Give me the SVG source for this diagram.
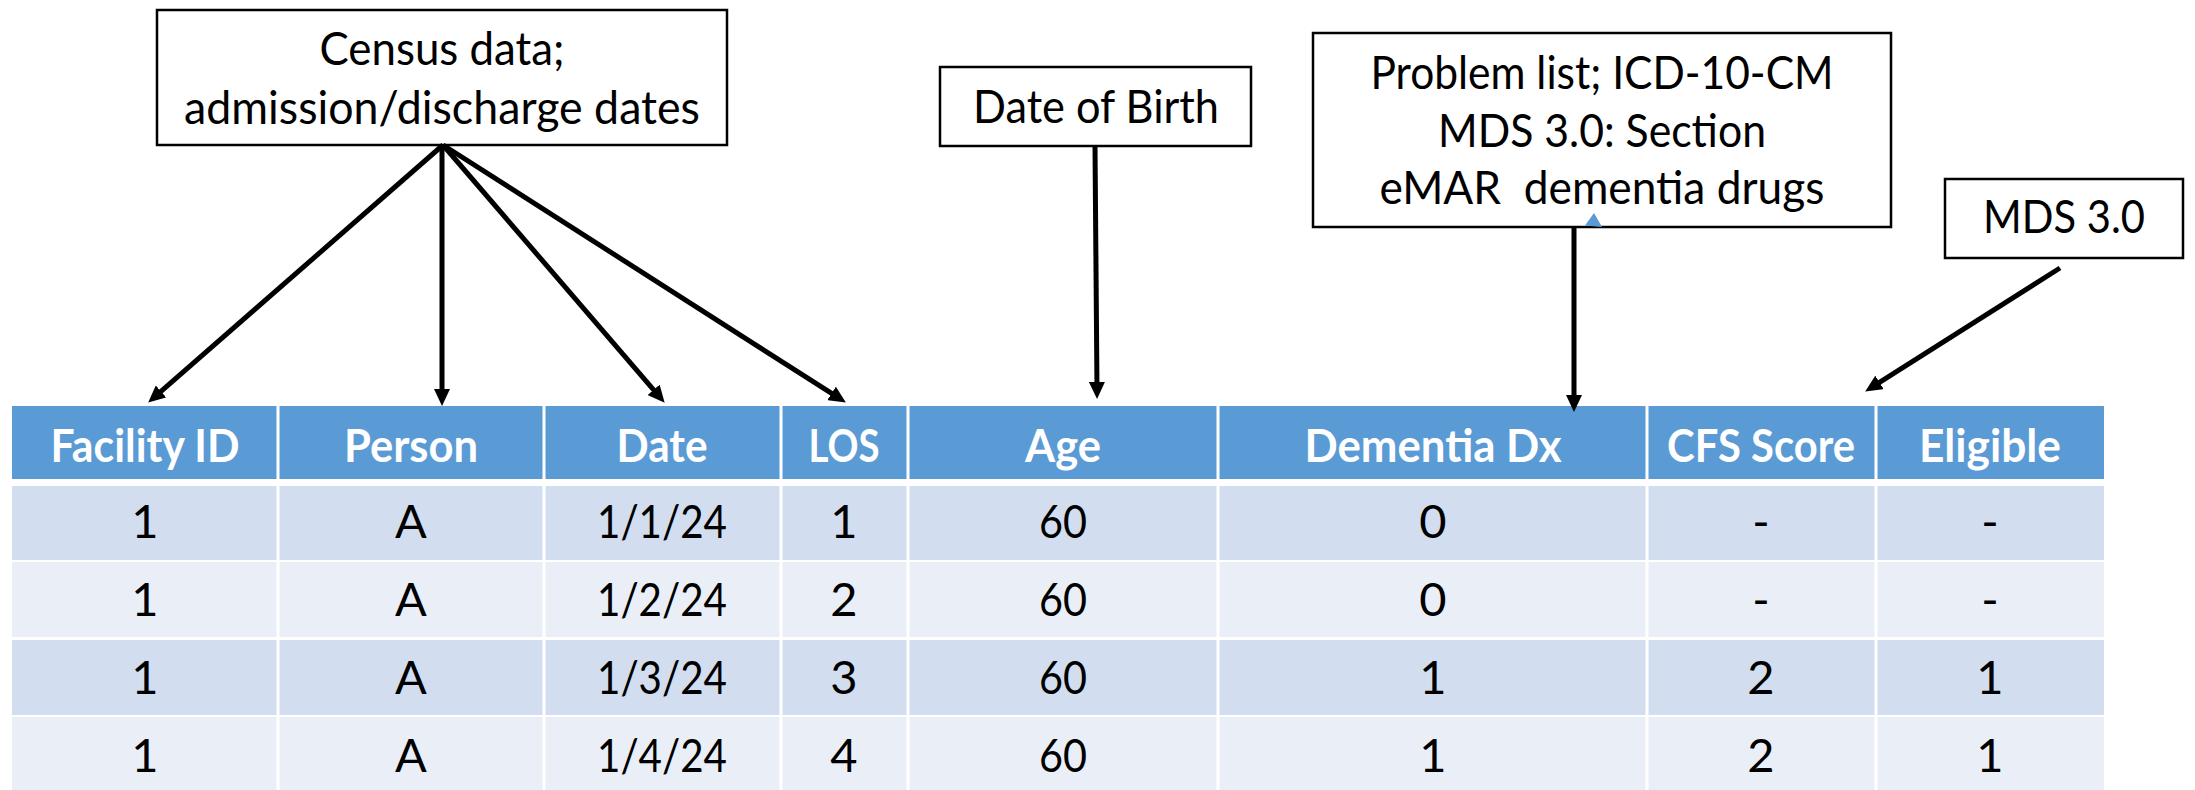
<svg xmlns="http://www.w3.org/2000/svg" width="2195" height="790" viewBox="0 0 2195 790">
  <defs>
    <marker id="arrow" markerUnits="userSpaceOnUse" markerWidth="17" markerHeight="16" refX="8" refY="8" orient="auto">
      <path d="M0,0 L17,8 L0,16 z" fill="#000"/>
    </marker>
    <style>
      .box { fill: #fff; stroke: #000; stroke-width: 2.5; }
      .lbl { font-family: Lato, "Liberation Sans", sans-serif; font-size: 47px; fill: #000; text-anchor: middle; }
      .hdr { font-family: Lato, "Liberation Sans", sans-serif; font-size: 46px; font-weight: bold; fill: #fff; text-anchor: middle; }
      .cell { font-family: Lato, "Liberation Sans", sans-serif; font-size: 47px; fill: #000; text-anchor: middle; }
      .conn { stroke: #000; stroke-width: 5; fill: none; marker-end: url(#arrow); }
      .sep { stroke: #fff; stroke-width: 3; }
    </style>
  </defs>

  <rect width="2195" height="790" fill="#fff"/>

  <!-- source boxes -->
  <g id="census">
    <rect class="box" x="157" y="10" width="570" height="135"/>
    <text class="lbl" x="442" y="65" textLength="245" lengthAdjust="spacingAndGlyphs">Census data;</text>
    <text class="lbl" x="442" y="124" textLength="516" lengthAdjust="spacingAndGlyphs">admission/discharge dates</text>
  </g>

  <g id="dob">
    <rect class="box" x="940" y="67" width="311" height="79"/>
    <text class="lbl" x="1096" y="123" textLength="246" lengthAdjust="spacingAndGlyphs">Date of Birth</text>
  </g>

  <g id="problem-list">
    <rect class="box" x="1313" y="33" width="578" height="194"/>
    <text class="lbl" x="1602" y="89" textLength="463" lengthAdjust="spacingAndGlyphs">Problem list; ICD-10-CM</text>
    <text class="lbl" x="1602" y="147" textLength="328" lengthAdjust="spacingAndGlyphs">MDS 3.0: Section</text>
    <text class="lbl" x="1602" y="204" textLength="445" lengthAdjust="spacingAndGlyphs" style="white-space:pre">eMAR  dementia drugs</text>
    <polygon points="1594,213 1585,225.5 1602,227" fill="#5B9BD5"/>
  </g>

  <g id="mds">
    <rect class="box" x="1945" y="179" width="238" height="79"/>
    <text class="lbl" x="2064" y="233" textLength="162" lengthAdjust="spacingAndGlyphs">MDS 3.0</text>
  </g>

  <!-- data table -->
  <g id="table">
    <rect x="12" y="406" width="2092" height="73" fill="#5B9BD5"/>
    <rect x="12" y="486" width="2092" height="74" fill="#D2DEEF"/>
    <rect x="12" y="562" width="2092" height="75" fill="#EAEFF7"/>
    <rect x="12" y="640" width="2092" height="75" fill="#D2DEEF"/>
    <rect x="12" y="717" width="2092" height="73" fill="#EAEFF7"/>
    <g class="sep">
      <line x1="278" y1="406" x2="278" y2="790"/>
      <line x1="544" y1="406" x2="544" y2="790"/>
      <line x1="781" y1="406" x2="781" y2="790"/>
      <line x1="908" y1="406" x2="908" y2="790"/>
      <line x1="1218" y1="406" x2="1218" y2="790"/>
      <line x1="1647" y1="406" x2="1647" y2="790"/>
      <line x1="1876" y1="406" x2="1876" y2="790"/>
    </g>

    <g id="header">
      <text class="hdr" x="145" y="462" textLength="189" lengthAdjust="spacingAndGlyphs">Facility ID</text>
      <text class="hdr" x="411" y="462" textLength="134" lengthAdjust="spacingAndGlyphs">Person</text>
      <text class="hdr" x="662" y="462" textLength="91" lengthAdjust="spacingAndGlyphs">Date</text>
      <text class="hdr" x="844" y="462" textLength="71" lengthAdjust="spacingAndGlyphs">LOS</text>
      <text class="hdr" x="1063" y="462" textLength="76" lengthAdjust="spacingAndGlyphs">Age</text>
      <text class="hdr" x="1433" y="462" textLength="257" lengthAdjust="spacingAndGlyphs">Dementia Dx</text>
      <text class="hdr" x="1761" y="462" textLength="188" lengthAdjust="spacingAndGlyphs">CFS Score</text>
      <text class="hdr" x="1990" y="462" textLength="142" lengthAdjust="spacingAndGlyphs">Eligible</text>
    </g>

    <g id="row1">
      <text class="cell" x="145" y="538">1</text>
      <text class="cell" x="411" y="538">A</text>
      <text class="cell" x="662" y="538" textLength="130" lengthAdjust="spacingAndGlyphs">1/1/24</text>
      <text class="cell" x="844" y="538">1</text>
      <text class="cell" x="1063" y="538" textLength="48" lengthAdjust="spacingAndGlyphs">60</text>
      <text class="cell" x="1433" y="538">0</text>
      <text class="cell" x="1761" y="538">-</text>
      <text class="cell" x="1990" y="538">-</text>
    </g>
    <g id="row2">
      <text class="cell" x="145" y="616">1</text>
      <text class="cell" x="411" y="616">A</text>
      <text class="cell" x="662" y="616" textLength="130" lengthAdjust="spacingAndGlyphs">1/2/24</text>
      <text class="cell" x="844" y="616">2</text>
      <text class="cell" x="1063" y="616" textLength="48" lengthAdjust="spacingAndGlyphs">60</text>
      <text class="cell" x="1433" y="616">0</text>
      <text class="cell" x="1761" y="616">-</text>
      <text class="cell" x="1990" y="616">-</text>
    </g>
    <g id="row3">
      <text class="cell" x="145" y="694">1</text>
      <text class="cell" x="411" y="694">A</text>
      <text class="cell" x="662" y="694" textLength="130" lengthAdjust="spacingAndGlyphs">1/3/24</text>
      <text class="cell" x="844" y="694">3</text>
      <text class="cell" x="1063" y="694" textLength="48" lengthAdjust="spacingAndGlyphs">60</text>
      <text class="cell" x="1433" y="694">1</text>
      <text class="cell" x="1761" y="694">2</text>
      <text class="cell" x="1990" y="694">1</text>
    </g>
    <g id="row4">
      <text class="cell" x="145" y="772">1</text>
      <text class="cell" x="411" y="772">A</text>
      <text class="cell" x="662" y="772" textLength="130" lengthAdjust="spacingAndGlyphs">1/4/24</text>
      <text class="cell" x="844" y="772">4</text>
      <text class="cell" x="1063" y="772" textLength="48" lengthAdjust="spacingAndGlyphs">60</text>
      <text class="cell" x="1433" y="772">1</text>
      <text class="cell" x="1761" y="772">2</text>
      <text class="cell" x="1990" y="772">1</text>
    </g>
  </g>

  <!-- connectors -->
  <g id="connectors">
    <line class="conn" x1="443" y1="145" x2="155" y2="396.7"/>
    <line class="conn" x1="442" y1="145" x2="442" y2="397"/>
    <line class="conn" x1="443" y1="145" x2="658.8" y2="395.9"/>
    <line class="conn" x1="443" y1="145" x2="838.3" y2="397.7"/>
    <line class="conn" x1="1095" y1="146" x2="1097" y2="390"/>
    <line class="conn" x1="1574" y1="228" x2="1574" y2="403"/>
    <line class="conn" x1="2060" y1="268" x2="1872.8" y2="386.7"/>
  </g>
</svg>
